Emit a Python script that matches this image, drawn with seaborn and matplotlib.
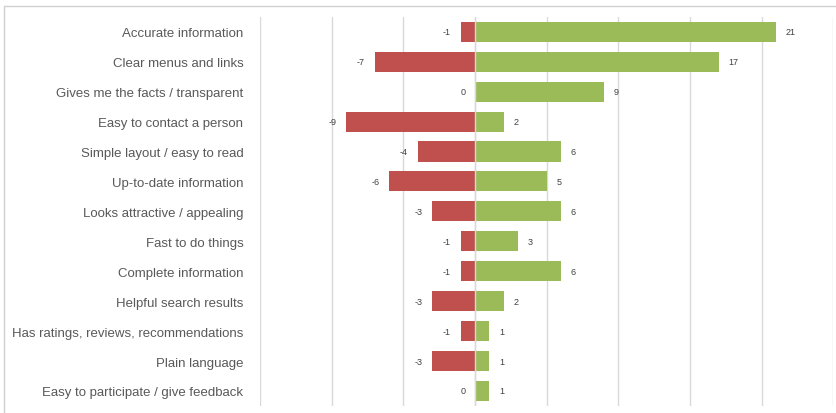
import matplotlib
matplotlib.use("Agg")
import matplotlib.pyplot as plt
import seaborn as sns
import pandas as pd
from matplotlib.lines import Line2D

categories = [
    "Accurate information",
    "Clear menus and links",
    "Gives me the facts / transparent",
    "Easy to contact a person",
    "Simple layout / easy to read",
    "Up-to-date information",
    "Looks attractive / appealing",
    "Fast to do things",
    "Complete information",
    "Helpful search results",
    "Has ratings, reviews, recommendations",
    "Plain language",
    "Easy to participate / give feedback",
]
negative = [-1, -7, 0, -9, -4, -6, -3, -1, -1, -3, -1, -3, 0]
positive = [21, 17, 9, 2, 6, 5, 6, 3, 6, 2, 1, 1, 1]

RED = "#C0504D"
GREEN = "#9BBB59"
GRID = "#D9D9D9"

sns.set_theme(style="white")
plt.rcParams["font.family"] = ["Liberation Sans", "DejaVu Sans"]

df = pd.DataFrame({"category": categories, "neg": negative, "pos": positive})

fig = plt.figure(figsize=(8.36, 4.14), dpi=100)
ax = fig.add_axes([0.311, 0.017, 0.686, 0.940])

sns.barplot(data=df, x="neg", y="category", color=RED, width=0.67,
            saturation=1, linewidth=0, ax=ax, zorder=3)
sns.barplot(data=df, x="pos", y="category", color=GREEN, width=0.67,
            saturation=1, linewidth=0, ax=ax, zorder=3)

ax.set_xlim(-15, 25)
ax.set_ylim(len(categories) - 0.5, -0.5)
ax.set_xticks(range(-15, 26, 5))
ax.xaxis.grid(True, color=GRID, linewidth=1.0, zorder=0)
ax.yaxis.grid(False)
ax.axvline(0, color=GRID, linewidth=1.0, zorder=4)
ax.tick_params(axis="x", length=0, labelbottom=False)
ax.tick_params(axis="y", length=0, pad=12, labelsize=9.5, labelcolor="#595959")
ax.set_xlabel("")
ax.set_ylabel("")
for s in ax.spines.values():
    s.set_visible(False)

# value labels beside each bar end
for i, (n, p) in enumerate(zip(negative, positive)):
    ax.annotate(f"{n}", (n, i), xytext=(-7, 0), textcoords="offset points",
                ha="right", va="center", fontsize=6.5, color="#404040")
    ax.annotate(f"{p}", (p, i), xytext=(7, 0), textcoords="offset points",
                ha="left", va="center", fontsize=6.5, color="#404040")

# thin frame along the top and left of the figure
fig.add_artist(Line2D([4 / 836, 1], [1 - 7 / 414, 1 - 7 / 414],
                      transform=fig.transFigure, color="#D0D0D0", linewidth=1))
fig.add_artist(Line2D([4 / 836, 4 / 836], [0, 1 - 7 / 414],
                      transform=fig.transFigure, color="#D0D0D0", linewidth=1))

fig.savefig("out.png", dpi=100)
